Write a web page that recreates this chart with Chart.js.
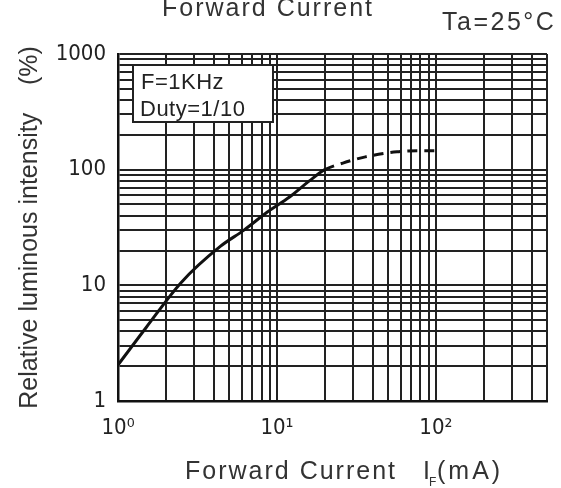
<!DOCTYPE html>
<html>
<head>
<meta charset="utf-8">
<script src="https://cdn.jsdelivr.net/npm/chart.js@4/dist/chart.umd.min.js"></script>
<style>
  html, body { margin: 0; padding: 0; background: #fff; }
  #wrap { width: 561px; height: 488px; position: relative; }
</style>
</head>
<body>
<div id="wrap"><canvas id="chart"></canvas></div>
<script>
// forward current (mA) vs relative luminous intensity (%)
const current = [1, 1.5, 2.5, 4.4, 6.2, 8.7, 12, 16, 20, 26, 36, 57, 80, 100];
const intensity = [2.05, 4.3, 10.6, 21.7, 30, 43, 58, 80, 100, 114, 129, 143, 146, 146];
const dashedFrom = 20; // curve is dashed above this current

const xGridValues = [1, 2, 3, 4, 5, 6, 7, 8, 9, 10, 20, 30, 40, 50, 60, 70, 80, 90, 100, 200, 300, 400, 500];
const yGridValues = [1, 2, 3, 4, 5, 6, 7, 8, 9, 10, 20, 30, 40, 50, 60, 70, 80, 90, 100, 200, 300, 400, 500, 600, 700, 800, 900, 1000];
const xTickLabels = { 1: '10\u2070', 10: '10\u00b9', 100: '10\u00b2' };
const yTickLabels = { 1: '1', 10: '10', 100: '100', 1000: '1000' };

const condensed = "'DejaVu Sans Condensed', 'Liberation Sans', sans-serif";
const sans = "'Liberation Sans', Arial, sans-serif";
const gridColor = '#222';

// spaced text helper
function spacedText(ctx, text, x, y, font, spacing, align) {
  ctx.font = font;
  ctx.letterSpacing = spacing + 'px';
  ctx.textAlign = align || 'left';
  ctx.fillText(text, x, y);
  ctx.letterSpacing = '0px';
}

const annotations = {
  id: 'annotations',
  afterDraw(chart) {
    const ctx = chart.ctx;
    ctx.save();
    ctx.textBaseline = 'alphabetic';
    ctx.fillStyle = '#333';

    // title, cut at the top in the original
    spacedText(ctx, 'Forward Current', 268, 16, '25px ' + sans, 2, 'center');
    spacedText(ctx, 'Ta=25\u00b0C', 442, 30, '25px ' + sans, 2.5);

    // x axis title with subscript
    spacedText(ctx, 'Forward Current', 185, 479, '25px ' + sans, 2);
    spacedText(ctx, 'I', 423, 479, '25px ' + sans, 0);
    spacedText(ctx, 'F', 429, 486, '12px ' + sans, 0);
    spacedText(ctx, '(mA)', 437, 479, '25px ' + sans, 3);

    // condition box
    ctx.fillStyle = '#fff';
    ctx.fillRect(133, 65, 140, 57);
    ctx.strokeStyle = '#222';
    ctx.lineWidth = 2;
    ctx.strokeRect(133, 65, 140, 57);
    ctx.fillStyle = '#222';
    spacedText(ctx, 'F=1KHz', 141, 89, '22px ' + sans, 0.5);
    spacedText(ctx, 'Duty=1/10', 140, 116, '22px ' + sans, 0.5);
    ctx.restore();
  },
};

const ctx = document.getElementById('chart').getContext('2d');
const chart = new Chart(ctx, {
  type: 'line',
  data: {
    datasets: [
      {
        data: current.map((c, i) => ({ x: c, y: intensity[i] })),
        borderColor: '#111',
        borderWidth: 3,
        pointRadius: 0,
        fill: false,
        cubicInterpolationMode: 'monotone',
        segment: {
          borderDash: (c) => (c.p0.parsed.x >= dashedFrom ? [10, 7] : undefined),
        },
      },
    ],
  },
  options: {
    responsive: true,
    maintainAspectRatio: false,
    animation: false,
    layout: {
      padding: { top: 54, right: 3, left: 0, bottom: 0 },
    },
    plugins: {
      legend: { display: false },
      tooltip: { enabled: false },
    },
    scales: {
      x: {
        type: 'logarithmic',
        position: 'bottom',
        min: 1,
        max: 500,
        afterBuildTicks(scale) {
          scale.ticks = xGridValues.map((v) => ({ value: v }));
        },
        afterFit(scale) {
          scale.height = 87;
        },
        ticks: {
          autoSkip: false,
          maxRotation: 0,
          padding: 14,
          color: '#222',
          font: { family: condensed, size: 22 },
          callback: (v) => xTickLabels[v] || '',
        },
        grid: {
          color: gridColor,
          lineWidth: 2,
          drawTicks: false,
        },
        border: { display: true, color: '#111', width: 2.5 },
      },
      y: {
        type: 'logarithmic',
        min: 1,
        max: 1000,
        afterBuildTicks(scale) {
          scale.ticks = yGridValues.map((v) => ({ value: v }));
        },
        afterFit(scale) {
          scale.width = 118;
        },
        ticks: {
          autoSkip: false,
          padding: 12,
          color: '#222',
          font: { family: condensed, size: 22 },
          callback: (v) => yTickLabels[v] || '',
        },
        grid: {
          color: gridColor,
          lineWidth: 2,
          drawTicks: false,
        },
        border: { display: true, color: '#111', width: 2.5 },
        title: {
          display: true,
          text: 'Relative luminous intensity    (%)',
          color: '#333',
          font: { family: sans, size: 25 },
          padding: { top: 15, bottom: 0 },
        },
      },
    },
  },
  plugins: [annotations],
});
</script>
</body>
</html>
